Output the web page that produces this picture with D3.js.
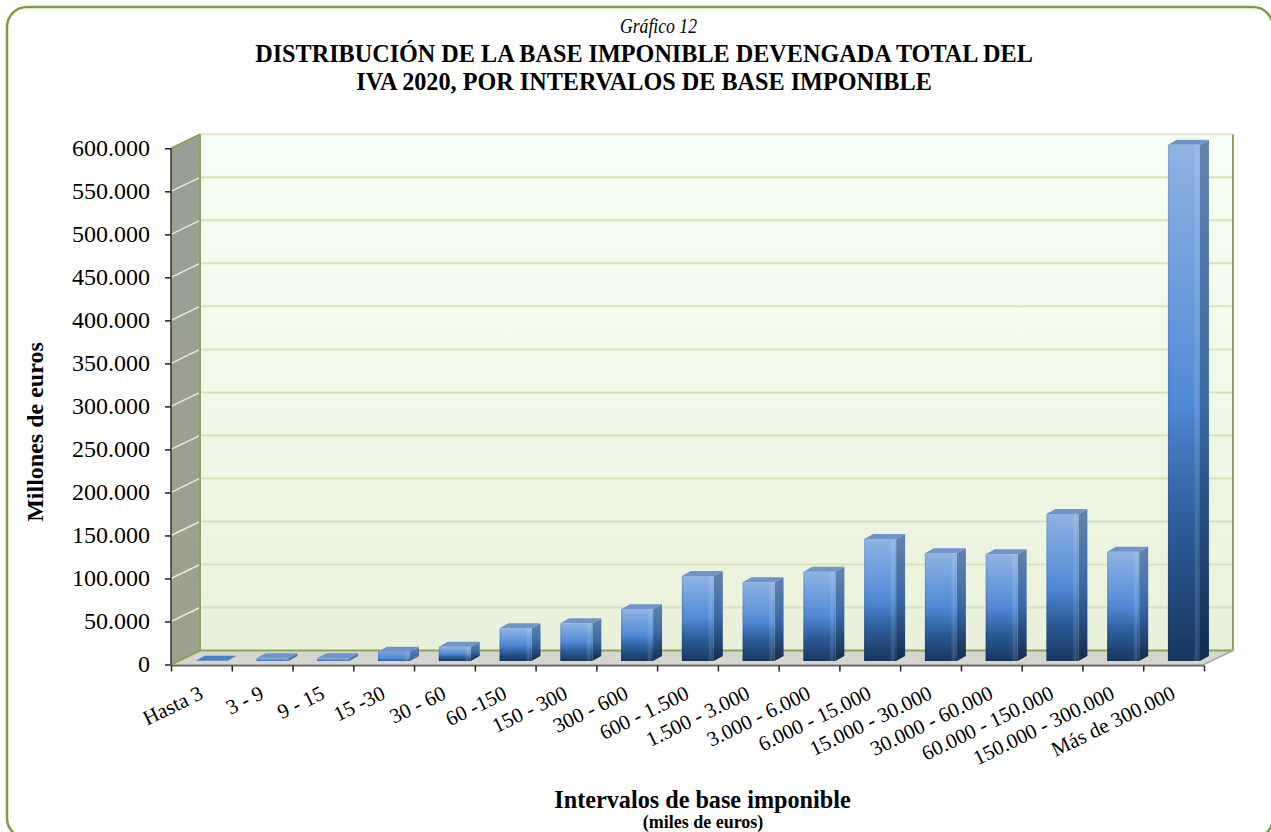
<!DOCTYPE html>
<html>
<head>
<meta charset="utf-8">
<script src="https://cdnjs.cloudflare.com/ajax/libs/d3/7.8.5/d3.min.js"></script>
<style>
	html, body { margin: 0; padding: 0; background: #fff; overflow: hidden; }
	text { font-family: "Liberation Serif", serif; fill: #000; }
</style>
</head>
<body>
<div id="chart"></div>
<script>
var w = 1271,
	h = 832;

var categories = ["Hasta 3", "3 - 9", "9 - 15", "15 -30", "30 - 60", "60 -150", "150 - 300", "300 - 600",
	"600 - 1.500", "1.500 - 3.000", "3.000 - 6.000", "6.000 - 15.000", "15.000 - 30.000", "30.000 - 60.000",
	"60.000 - 150.000", "150.000 - 300.000", "Más de 300.000"];
var values = [200, 3100, 3100, 10800, 16600, 38000, 43800, 60100, 98800, 91500, 103800, 141800, 125200, 124000, 170900, 127000, 600000];
var yTicks = [0, 50000, 100000, 150000, 200000, 250000, 300000, 350000, 400000, 450000, 500000, 550000, 600000];
var titleLines = ["DISTRIBUCIÓN DE LA BASE IMPONIBLE DEVENGADA TOTAL DEL", "IVA 2020, POR INTERVALOS DE BASE IMPONIBLE"];

// the fake 3d box: how far the back wall sits from the front axis
var depthX = 29,
	depthY = 14;
// same thing for one bar
var barDepthX = 9,
	barDepthY = 5,
	barLift = 3.5,
	barInset = 24.7,
	barWidth = 32;

var x = d3.scaleBand().domain(categories).range([171, 1204]);
var y = d3.scaleLinear().domain([0, 600000]).range([664.5, 148.3]);

var root = d3.select("#chart").append("svg").attr("width", w).attr("height", h);
var defs = root.append("defs");

function addGradient(id, stops, horizontal) {
	var g = defs.append("linearGradient").attr("id", id)
		.attr("x1", 0).attr("y1", 0).attr("x2", horizontal ? 1 : 0).attr("y2", horizontal ? 0 : 1);
	stops.forEach(function(s) {
		g.append("stop").attr("offset", s[0]).attr("stop-color", s[1]).attr("stop-opacity", s[2] === undefined ? 1 : s[2]);
	});
}

addGradient("wall", [[0, "#f6fff6"], [0.45, "#f2f9ea"], [1, "#e9f0da"]]);
addGradient("side", [[0, "#98a096"], [1, "#a0a08e"]]);
addGradient("front", [[0, "#8fb3e3"], [0.5, "#5189d6"], [0.72, "#2f5f9e"], [1, "#17375f"]]);
addGradient("right", [[0, "#6384ad"], [0.5, "#3c69a5"], [0.72, "#274e80"], [1, "#132c4c"]]);
// very short bars never get to the dark end
addGradient("frontShort", [[0, "#78a3dc"], [0.75, "#4f86d0"], [1, "#2d5c9c"]]);
addGradient("rightShort", [[0, "#5f82b0"], [1, "#3a659e"]]);
addGradient("edge", [[0, "#000", 0.1], [0.08, "#000", 0], [0.8, "#fff", 0], [0.9, "#fff", 0.14], [1, "#fff", 0]], true);

function poly(pts, fill, stroke) {
	return root.append("polygon")
		.attr("points", pts.map(function(p) { return p.join(","); }).join(" "))
		.attr("fill", fill)
		.attr("stroke", stroke || "none");
}

// outer frame, runs off the right and bottom of the picture
root.append("rect").attr("x", 7).attr("y", 7).attr("width", 1266).attr("height", 831).attr("rx", 20).attr("ry", 20)
	.attr("fill", "#fff").attr("stroke", "#7f9c3f").attr("stroke-width", 2.5);

// walls and floor
var x0 = x.range()[0],
	x1 = x.range()[1],
	yBase = y(0),
	yTop = y(600000);
poly([[x0 + depthX, yTop - depthY], [x1 + depthX, yTop - depthY], [x1 + depthX, yBase - depthY], [x0 + depthX, yBase - depthY]], "url(#wall)");
poly([[x0, yTop], [x0 + depthX, yTop - depthY], [x0 + depthX, yBase - depthY], [x0, yBase]], "url(#side)");
poly([[x0, yBase], [x0 + depthX, yBase - depthY], [x1 + depthX, yBase - depthY], [x1, yBase]], "#d5d6cf");

// gridlines on both walls
yTicks.forEach(function(t) {
	if (t === 0) return;
	var yy = y(t);
	root.append("line").attr("x1", x0 + depthX).attr("x2", x1 + depthX).attr("y1", yy - depthY).attr("y2", yy - depthY)
		.attr("stroke", t === 600000 ? "#dfe6cf" : "#d6e3bb").attr("stroke-width", 2);
	root.append("line").attr("x1", x0).attr("x2", x0 + depthX).attr("y1", yy).attr("y2", yy - depthY)
		.attr("stroke", t === 600000 ? "#86a34f" : "#e6edd4").attr("stroke-width", 1.5);
});

// olive edges of the box
var edges = [
	[x0 + depthX, yTop - depthY, x0 + depthX, yBase - depthY],
	[x0 + depthX, yBase - depthY, x1 + depthX, yBase - depthY],
	[x1 + depthX, yTop - depthY, x1 + depthX, yBase - depthY],
	[x0, yBase, x0 + depthX, yBase - depthY]
];
edges.forEach(function(e) {
	root.append("line").attr("x1", e[0]).attr("y1", e[1]).attr("x2", e[2]).attr("y2", e[3])
		.attr("stroke", "#8ba65a").attr("stroke-width", 2);
});
root.append("line").attr("x1", x1).attr("y1", yBase).attr("x2", x1 + depthX).attr("y2", yBase - depthY)
	.attr("stroke", "#a9aba3").attr("stroke-width", 1.5);

// bars
categories.forEach(function(c, i) {
	var left = x(c) + barInset,
		right = left + barWidth,
		bottom = yBase - barLift,
		top = y(values[i]) - barLift,
		isShort = bottom - top < 12;
	if (bottom - top > 0.5) {
		poly([[right, top], [right + barDepthX, top - barDepthY], [right + barDepthX, bottom - barDepthY], [right, bottom]], isShort ? "url(#rightShort)" : "url(#right)");
		root.append("rect").attr("x", left).attr("y", top).attr("width", barWidth).attr("height", bottom - top).attr("fill", isShort ? "url(#frontShort)" : "url(#front)");
		root.append("rect").attr("x", left).attr("y", top).attr("width", barWidth).attr("height", bottom - top).attr("fill", "url(#edge)");
	}
	poly([[left, top], [left + barDepthX, top - barDepthY], [right + barDepthX, top - barDepthY], [right, top]], i === 0 ? "#4c80c6" : "#6f95c8");
});

// axes
var yAxis = d3.axisLeft(y).tickValues(yTicks).tickSize(6).tickPadding(15)
	.tickFormat(function(d) { return d3.format(",")(d).replace(/,/g, "."); });
var gy = root.append("g").attr("transform", "translate(" + x0 + ",0)").call(yAxis);
gy.selectAll("text").style("font-size", "24px").attr("dy", "0.3em");
gy.selectAll(".tick line").attr("stroke", "#222").attr("stroke-width", 1.5);
gy.select(".domain").attr("stroke", "#333").attr("stroke-width", 1.5).attr("d", "M0," + yTop + "V" + yBase);

var tickScale = d3.scaleLinear().domain([0, categories.length]).range([x0, x1]);
var xAxis = d3.axisBottom(tickScale).tickValues(d3.range(categories.length + 1)).tickSize(6).tickFormat("");
var gx = root.append("g").attr("transform", "translate(0," + (yBase + 1) + ")").call(xAxis);
gx.selectAll(".tick line").attr("stroke", "#222").attr("stroke-width", 1.5);
gx.select(".domain").attr("stroke", "#666").attr("stroke-width", 2).attr("d", "M" + x0 + ",0H" + x1);

root.append("g").selectAll("text").data(categories).enter().append("text")
	.attr("transform", function(d) { return "translate(" + (x(d) + x.bandwidth() / 2 + 3) + ",698) rotate(-26)"; })
	.attr("text-anchor", "end")
	.style("font-size", "21px")
	.text(function(d) { return d; });

// titles
root.append("text").attr("x", 658.5).attr("y", 33).attr("text-anchor", "middle")
	.attr("textLength", 77).attr("lengthAdjust", "spacingAndGlyphs")
	.style("font-size", "21px").style("font-style", "italic").text("Gráfico 12");
root.selectAll(".title").data(titleLines).enter().append("text").attr("class", "title")
	.attr("x", 644).attr("y", function(d, i) { return 62 + i * 28; }).attr("text-anchor", "middle")
	.style("font-size", "24.2px").style("font-weight", "bold").text(function(d) { return d; });

root.append("text").attr("transform", "translate(43,432) rotate(-90)").attr("text-anchor", "middle")
	.style("font-size", "24px").style("font-weight", "bold").text("Millones de euros");
root.append("text").attr("x", 702.5).attr("y", 808).attr("text-anchor", "middle")
	.style("font-size", "24.2px").style("font-weight", "bold").text("Intervalos de base imponible");
root.append("text").attr("x", 703).attr("y", 828).attr("text-anchor", "middle")
	.style("font-size", "18px").style("font-weight", "bold").text("(miles de euros)");
</script>
</body>
</html>
